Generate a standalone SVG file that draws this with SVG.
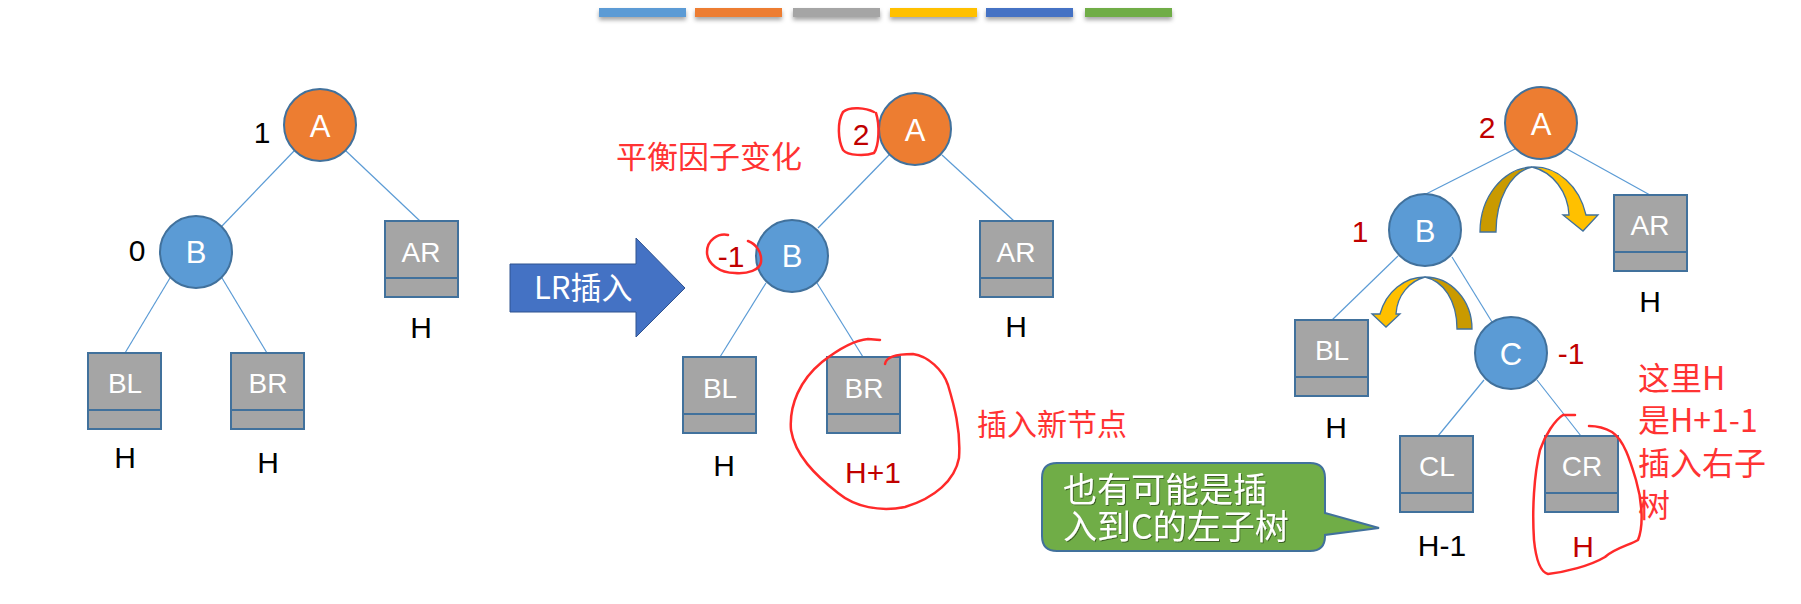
<svg xmlns="http://www.w3.org/2000/svg" width="1801" height="604" viewBox="0 0 1801 604">
<defs>
<filter id="sh" x="-10%" y="-50%" width="120%" height="250%">
<feDropShadow dx="0" dy="3" stdDeviation="2" flood-color="#000" flood-opacity="0.35"/>
</filter>
<filter id="tsh" x="-5%" y="-20%" width="110%" height="140%">
<feDropShadow dx="1" dy="1" stdDeviation="0.6" flood-color="#000" flood-opacity="0.45"/>
</filter>
</defs>
<style>
.edge{stroke:#5B9BD5;stroke-width:1.2;fill:none}
.cA{fill:#ED7D31;stroke:#41719C;stroke-width:2}
.cB{fill:#5B9BD5;stroke:#41719C;stroke-width:2}
.box{fill:#A5A5A5;stroke:#41719C;stroke-width:2}
.div{stroke:#41719C;stroke-width:2}
.nl{font-family:"Liberation Sans",Arial,sans-serif;font-size:31px;fill:#fff;text-anchor:middle}
.bl{font-family:"Liberation Sans",Arial,sans-serif;font-size:28px;fill:#fff;text-anchor:middle}
.h{font-family:"Liberation Sans",Arial,sans-serif;font-size:30px;fill:#000;text-anchor:middle}
.dr{font-family:"Liberation Sans",Arial,sans-serif;font-size:30px;fill:#C00000;text-anchor:middle}
.cn{font-family:"Noto Sans CJK SC",sans-serif;fill:#FF3333}
.wt{font-family:"Noto Sans CJK SC",sans-serif;fill:#fff}
.pen{fill:none;stroke:#FF2A2A;stroke-width:2.5;stroke-linecap:round;stroke-linejoin:round}
.yl{fill:#FFC000;stroke:#41719C;stroke-width:1.3}
.yd{fill:#C99A00;stroke:#41719C;stroke-width:1.3}
</style>
<g id="colorbars" filter="url(#sh)">
<rect x="599" y="8" width="87" height="9" fill="#5B9BD5"/>
<rect x="695" y="8" width="87" height="9" fill="#ED7D31"/>
<rect x="793" y="8" width="87" height="9" fill="#A5A5A5"/>
<rect x="890" y="8" width="87" height="9" fill="#FFC000"/>
<rect x="986" y="8" width="87" height="9" fill="#4472C4"/>
<rect x="1085" y="8" width="87" height="9" fill="#70AD47"/>
</g>
<g id="connectors">
<line class="edge" x1="294" y1="151" x2="222" y2="226"/>
<line class="edge" x1="346" y1="151" x2="420" y2="221"/>
<line class="edge" x1="170" y1="278" x2="125" y2="353"/>
<line class="edge" x1="222" y1="278" x2="267" y2="353"/>
<line class="edge" x1="889" y1="155" x2="818" y2="228"/>
<line class="edge" x1="942" y1="155" x2="1014" y2="221"/>
<line class="edge" x1="766" y1="283" x2="720" y2="357"/>
<line class="edge" x1="817" y1="283" x2="863" y2="357"/>
<line class="edge" x1="1515" y1="149" x2="1426" y2="194"/>
<line class="edge" x1="1567" y1="149" x2="1650" y2="195"/>
<line class="edge" x1="1398" y1="256" x2="1332" y2="320"/>
<line class="edge" x1="1452" y1="257" x2="1492" y2="322"/>
<line class="edge" x1="1484" y1="380" x2="1438" y2="436"/>
<line class="edge" x1="1537" y1="380" x2="1581" y2="436"/>
</g>
<!-- Tree 1 -->
<g id="t1-A"><circle class="cA" cx="320" cy="125" r="36"/><text class="nl" x="320" y="137">A</text></g>
<g id="t1-B"><circle class="cB" cx="196" cy="252" r="36"/><text class="nl" x="196" y="263">B</text></g>
<g id="t1-AR"><rect class="box" x="385" y="221" width="73" height="76"/><line class="div" x1="385" y1="278" x2="458" y2="278"/><text class="bl" x="421" y="262">AR</text></g>
<g id="t1-BL"><rect class="box" x="88" y="353" width="73" height="76"/><line class="div" x1="88" y1="410" x2="161" y2="410"/><text class="bl" x="125" y="393">BL</text></g>
<g id="t1-BR"><rect class="box" x="231" y="353" width="73" height="76"/><line class="div" x1="231" y1="410" x2="304" y2="410"/><text class="bl" x="268" y="393">BR</text></g>
<g id="t1-labels">
<text class="h" x="262" y="143">1</text>
<text class="h" x="137" y="261">0</text>
<text class="h" x="421" y="338">H</text>
<text class="h" x="125" y="468">H</text>
<text class="h" x="268" y="473">H</text>
</g>
<!-- Big arrow -->
<g id="lr-arrow">
<path d="M510,264 H636 V238 L685,288 L636,337 V312 H510 Z" fill="#4472C4" stroke="#2F528F" stroke-width="1"/>
<text class="wt" x="534" y="299" font-size="31">LR插入</text>
</g>
<!-- Tree 2 -->
<g id="t2-A"><circle class="cA" cx="915" cy="129" r="36"/><text class="nl" x="915" y="141">A</text></g>
<g id="t2-B"><circle class="cB" cx="792" cy="256" r="36"/><text class="nl" x="792" y="267">B</text></g>
<g id="t2-AR"><rect class="box" x="980" y="221" width="73" height="76"/><line class="div" x1="980" y1="278" x2="1053" y2="278"/><text class="bl" x="1016" y="262">AR</text></g>
<g id="t2-BL"><rect class="box" x="683" y="357" width="73" height="76"/><line class="div" x1="683" y1="414" x2="756" y2="414"/><text class="bl" x="720" y="398">BL</text></g>
<g id="t2-BR"><rect class="box" x="827" y="357" width="73" height="76"/><line class="div" x1="827" y1="414" x2="900" y2="414"/><text class="bl" x="864" y="398">BR</text></g>
<g id="t2-labels">
<text class="dr" x="861" y="145">2</text>
<text class="dr" x="731" y="267">-1</text>
<text class="h" x="1016" y="337">H</text>
<text class="h" x="724" y="476">H</text>
<text class="dr" x="873" y="483">H+1</text>
<text class="cn" x="616" y="168" font-size="31">平衡因子变化</text>
<text class="cn" x="977" y="435" font-size="30">插入新节点</text>
</g>
<g id="t2-pen">
<path class="pen" d="M874,112 C866,108 850,106 843,112 C837,122 838,140 843,150 C848,156 866,156 874,153 C879,146 880,125 876,113"/>
<path class="pen" d="M728,235 C718,233 707,240 707,252 C707,264 720,273 735,273 C748,274 760,270 761,262 C762,252 756,244 748,241"/>
<path class="pen" d="M885,364 C886,357 895,354 913,354 C928,356 943,370 948,385 C954,405 961,430 959,458 C955,480 935,498 905,507 C880,512 855,507 838,493 C815,475 795,455 791,430 C789,405 800,380 822,362 C840,348 855,340 868,339 L880,340"/>
</g>
<!-- Callout -->
<g id="callout">
<path d="M1057,463 H1310 Q1325,463 1325,478 V513 L1379,528 L1325,535 V536 Q1325,551 1310,551 H1057 Q1042,551 1042,536 V478 Q1042,463 1057,463 Z" fill="#70AD47" stroke="#41719C" stroke-width="2"/>
<g filter="url(#tsh)">
<text class="wt" x="1063" y="502" font-size="34">也有可能是插</text>
<text class="wt" x="1063" y="539" font-size="34">入到C的左子树</text>
</g>
</g>
<!-- Tree 3 -->
<g id="t3-A"><circle class="cA" cx="1541" cy="123" r="36"/><text class="nl" x="1541" y="135">A</text></g>
<g id="t3-B"><circle class="cB" cx="1425" cy="230" r="36"/><text class="nl" x="1425" y="242">B</text></g>
<g id="t3-C"><circle class="cB" cx="1511" cy="353" r="36"/><text class="nl" x="1511" y="365">C</text></g>
<g id="t3-AR"><rect class="box" x="1614" y="195" width="73" height="76"/><line class="div" x1="1614" y1="252" x2="1687" y2="252"/><text class="bl" x="1650" y="235">AR</text></g>
<g id="t3-BL"><rect class="box" x="1295" y="320" width="73" height="76"/><line class="div" x1="1295" y1="377" x2="1368" y2="377"/><text class="bl" x="1332" y="360">BL</text></g>
<g id="t3-CL"><rect class="box" x="1400" y="436" width="73" height="76"/><line class="div" x1="1400" y1="493" x2="1473" y2="493"/><text class="bl" x="1437" y="476">CL</text></g>
<g id="t3-CR"><rect class="box" x="1545" y="436" width="73" height="76"/><line class="div" x1="1545" y1="493" x2="1618" y2="493"/><text class="bl" x="1582" y="476">CR</text></g>
<g id="t3-rot-big">
<path class="yd" d="M1480,232 A54,65 0 0 1 1532,167 C1510,172 1496,200 1496,232 Z"/>
<path class="yl" d="M1532,167 A54,65 0 0 1 1586,215 L1598,215 L1583,231 L1563,215 L1569,215 C1568,192 1553,172 1532,167 Z"/>
</g>
<g id="t3-rot-small">
<path class="yd" d="M1472,329 A47,52 0 0 0 1425,277 C1443,281 1457,300 1457,329 Z"/>
<path class="yl" d="M1425,277 A47,52 0 0 0 1380,314 L1372,314 L1386,327 L1400,314 L1396,314 C1397,295 1410,281 1425,277 Z"/>
</g>
<g id="t3-labels">
<text class="dr" x="1487" y="138">2</text>
<text class="dr" x="1360" y="242">1</text>
<text class="dr" x="1571" y="364">-1</text>
<text class="h" x="1650" y="312">H</text>
<text class="h" x="1336" y="438">H</text>
<text class="h" x="1442" y="556">H-1</text>
<text class="dr" x="1583" y="557">H</text>
<text class="cn" x="1638" y="390" font-size="32">这里H</text>
<text class="cn" x="1638" y="432" font-size="32">是H+1-1</text>
<text class="cn" x="1638" y="475" font-size="32">插入右子</text>
<text class="cn" x="1638" y="517" font-size="32">树</text>
</g>
<g id="t3-pen">
<path class="pen" d="M1575,415 L1563,415 C1555,420 1545,435 1540,450 C1534,475 1532,510 1534,540 C1536,560 1540,572 1548,574 C1565,572 1590,566 1605,557 C1615,548 1630,545 1638,540 C1644,525 1642,500 1636,480 C1630,460 1624,440 1612,432 C1605,428 1595,426 1589,426"/>
</g>
</svg>
